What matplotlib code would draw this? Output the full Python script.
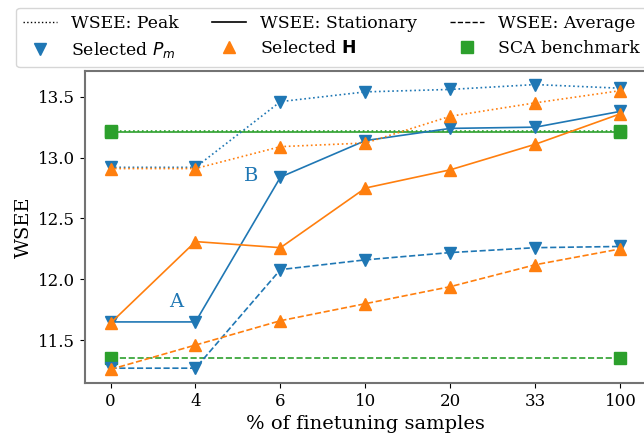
import numpy as np
import matplotlib
matplotlib.use("Agg")
import matplotlib.pyplot as plt
from matplotlib.lines import Line2D

plt.rcParams["font.family"] = "DejaVu Serif"

samples = ["0", "4", "6", "10", "20", "33", "100"]

pm_peak = [12.92, 12.92, 13.46, 13.54, 13.56, 13.60, 13.57]
pm_stat = [11.65, 11.65, 12.84, 13.14, 13.24, 13.25, 13.38]
pm_avg = [11.27, 11.27, 12.08, 12.16, 12.22, 12.26, 12.27]

h_peak = [12.91, 12.91, 13.09, 13.12, 13.34, 13.45, 13.55]
h_stat = [11.64, 12.31, 12.26, 12.75, 12.90, 13.11, 13.36]
h_avg = [11.26, 11.46, 11.66, 11.80, 11.94, 12.12, 12.25]

sca_peak = 13.22
sca_stat = 13.21
sca_avg = 11.35

blue, orange, green = "tab:blue", "tab:orange", "tab:green"

fig = plt.figure(figsize=(6.44, 4.34), dpi=100)
ax = fig.add_axes([0.132, 0.118, 0.871, 0.718])

x = np.arange(len(samples))
ms = 9
lw = 1.2

# SCA benchmark: markers only at the ends
for val, ls in [(sca_peak, ":"), (sca_stat, "-"), (sca_avg, "--")]:
    ax.plot(x, [val] * len(x), ls=ls, lw=lw, color=green, marker="s", ms=ms,
            markevery=[0, len(x) - 1])

for vals, ls in [(pm_peak, ":"), (pm_stat, "-"), (pm_avg, "--")]:
    ax.plot(x, vals, ls=ls, lw=lw, color=blue, marker="v", ms=ms)
for vals, ls in [(h_peak, ":"), (h_stat, "-"), (h_avg, "--")]:
    ax.plot(x, vals, ls=ls, lw=lw, color=orange, marker="^", ms=ms)

ax.text(0.77, 11.81, "A", color=blue, fontsize=14, ha="center", va="center")
ax.text(1.66, 12.85, "B", color=blue, fontsize=14, ha="center", va="center")

ax.set_xticks(x)
ax.set_xticklabels(samples)
ax.set_xlim(-0.3, 6.3)
ax.set_ylim(11.15, 13.71)
ax.tick_params(labelsize=12)
ax.set_xlabel("% of finetuning samples", fontsize=14)
ax.set_ylabel("WSEE", fontsize=14)
for sp in ax.spines.values():
    sp.set_color("0.45")
    sp.set_linewidth(1.5)

handles = [
    Line2D([], [], color="k", ls=":", lw=1),
    Line2D([], [], color=blue, marker="v", ls="none", ms=ms),
    Line2D([], [], color="k", ls="-", lw=1.2),
    Line2D([], [], color=orange, marker="^", ls="none", ms=ms),
    Line2D([], [], color="k", ls="--", lw=1),
    Line2D([], [], color=green, marker="s", ls="none", ms=ms),
]
labels = ["WSEE: Peak", r"Selected $P_m$", "WSEE: Stationary",
          r"Selected $\mathbf{H}$", "WSEE: Average", "SCA benchmark"]
fig.legend(handles, labels, ncol=3, fontsize=12.4, loc="upper left",
           bbox_to_anchor=(0.025, 0.982), borderaxespad=0, columnspacing=1.9)

fig.savefig("out.png", dpi=100)
